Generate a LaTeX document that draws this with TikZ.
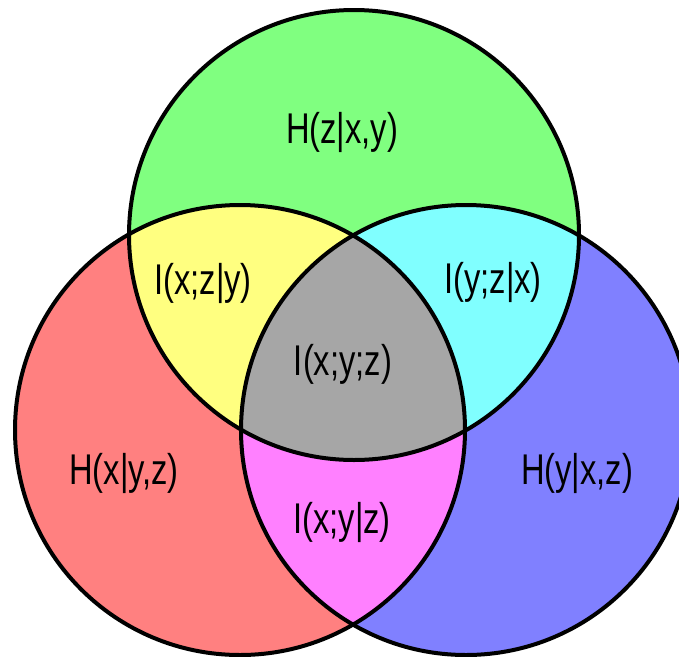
\documentclass[tikz,border=0pt]{standalone}
\usepackage{fontspec}
\newfontfamily\vennfont[FakeStretch=0.76]{Liberation Sans}

\definecolor{zgreen}{RGB}{128,255,128}
\definecolor{xred}{RGB}{255,128,128}
\definecolor{yblue}{RGB}{128,128,255}
\definecolor{xzyellow}{RGB}{255,255,128}
\definecolor{yzcyan}{RGB}{128,255,255}
\definecolor{xymagenta}{RGB}{255,128,255}
\definecolor{xyzgray}{RGB}{166,166,166}

\newcommand{\vennrad}{225pt}

\begin{document}
\begin{tikzpicture}[
    x=1pt, y=-1pt,
    every node/.style={font=\vennfont\fontsize{43}{48}\selectfont, anchor=base, inner sep=0pt},
    outline/.style={line width=4pt}
]
\useasboundingbox (0,0) rectangle (679,656);
\clip (0,0) rectangle (679,656);

\coordinate (cz) at (354,235);
\coordinate (cx) at (240,430);
\coordinate (cy) at (466,430);

% single sets
\fill[zgreen] (cz) circle[radius=\vennrad];
\fill[xred] (cx) circle[radius=\vennrad];
\fill[yblue] (cy) circle[radius=\vennrad];

% pairs and the middle
\begin{scope}
    \clip (cz) circle[radius=\vennrad];
    \fill[xzyellow] (cx) circle[radius=\vennrad];
    \fill[yzcyan] (cy) circle[radius=\vennrad];
\end{scope}
\begin{scope}
    \clip (cx) circle[radius=\vennrad];
    \fill[xymagenta] (cy) circle[radius=\vennrad];
    \clip (cz) circle[radius=\vennrad];
    \fill[xyzgray] (cy) circle[radius=\vennrad];
\end{scope}

\draw[outline] (cz) circle[radius=\vennrad];
\draw[outline] (cx) circle[radius=\vennrad];
\draw[outline] (cy) circle[radius=\vennrad];

\node (hz) at (342,143) {H(z|x,y)};
\node (ixz) at (203,294) {I(x;z|y)};
\node (iyz) at (493,293) {I(y;z|x)};
\node (ixyz) at (343,375) {I(x;y;z)};
\node (hx) at (124,484) {H(x|y,z)};
\node (hy) at (577,484) {H(y|x,z)};
\node (ixy) at (342,533) {I(x;y|z)};

\end{tikzpicture}
\end{document}
